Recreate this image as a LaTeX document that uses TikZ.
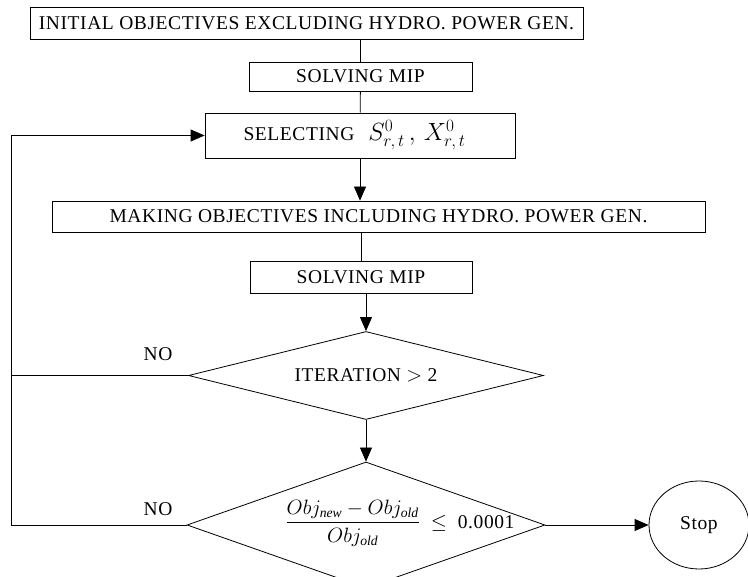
\documentclass[tikz,border=0pt]{standalone}
\usepackage{amsmath}
\usepackage{fontspec}
\setmainfont{Liberation Serif}[LetterSpace=3]
\usetikzlibrary{arrows.meta,shapes.geometric}
\begin{document}
\begin{tikzpicture}[x=1pt,y=-1pt,
  box/.style={draw,line width=0.8pt,inner sep=0pt,font=\fontsize{19.5}{22}\selectfont},
  dia/.style={draw,diamond,line width=0.8pt,inner sep=0pt,aspect=4},
  ln/.style={line width=0.8pt},
  arr/.style={line width=0.8pt,-{Triangle[length=14pt,width=12pt]}},
  lbl/.style={font=\fontsize{19.5}{22}\selectfont}]
\useasboundingbox (0,0) rectangle (748,577);
\begin{scope}
\clip (0,0) rectangle (748,577);
\node[box,minimum width=553,minimum height=32] (b1) at (306.5,23) {INITIAL OBJECTIVES EXCLUDING HYDRO. POWER GEN.};
\node[box,minimum width=223,minimum height=29] (b2) at (360.5,76.5) {SOLVING MIP};
\node[box,minimum width=310,minimum height=45] (b3) at (360,135.5) {};
\node[lbl,anchor=west] (t3) at (240,135.5) {SELECTING\hspace{14pt}{\fontsize{25}{28}\selectfont$S^{0}_{r,\,t}\,,\,X^{0}_{r,\,t}$}};
\node[box,minimum width=653,minimum height=31] (b4) at (378.5,216.5) {MAKING OBJECTIVES INCLUDING HYDRO. POWER GEN.};
\node[box,minimum width=222,minimum height=32] (b5) at (361,277) {SOLVING MIP};
\node[dia,minimum width=355,minimum height=88] (d1) at (366,375.5) {};
\node[lbl] (t1) at (366,375.5) {ITERATION $>$ 2};
\node[dia,minimum width=358,minimum height=126] (d2) at (366,525) {};
\node[lbl] (t2) at (400,523) {$\dfrac{Obj_{\mathit{new}}-Obj_{\mathit{old}}}{Obj_{\mathit{old}}}$ \ $\leq$ \ 0.0001};
\node[draw,ellipse,line width=0.8pt,minimum width=100,minimum height=88,inner sep=0pt,lbl] (stop) at (699,525) {Stop};
\coordinate (lx1) at (11,375.5);
\coordinate (lx2) at (11,525);
\coordinate (lx3) at (11,135.5);
\node[lbl] (no1) at (158,354) {NO};
\node[lbl] (no2) at (158,509) {NO};
\draw[ln] (b1.south -| b2) -- (b2.north);
\draw[ln] (b2) -- (b3);
\draw[arr] (b3) -- (b4.north -| b3);
\draw[ln] (b4.south -| b5) -- (b5.north);
\draw[arr] (b5.south -| d1.north) -- (d1.north);
\draw[arr] (d1.south) -- (d2.north);
\draw[arr] (d2.east) -- (stop.west);
\draw[ln] (d1.west) -- (lx1);
\draw[ln] (d2.west) -- (lx2) -- (lx1);
\draw[arr] (lx1) -- (lx3) -- (b3.west);
\end{scope}
\end{tikzpicture}
\end{document}
